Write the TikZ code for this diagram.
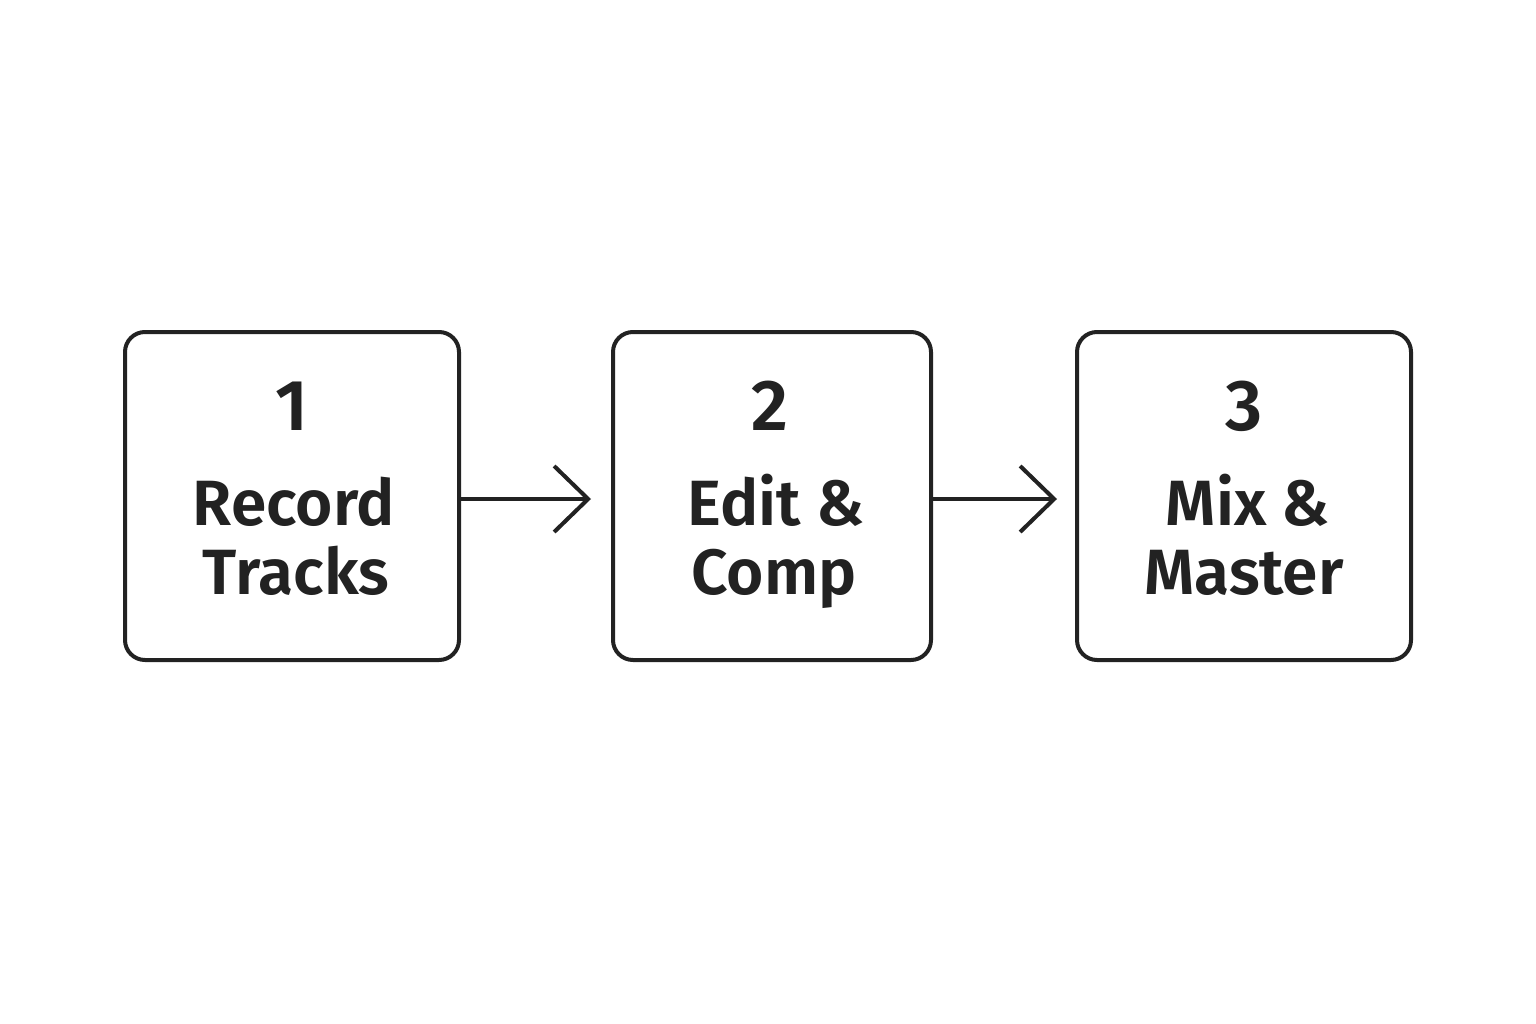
\documentclass[tikz,border=0pt]{standalone}
\usepackage{fontspec}
\setmainfont{Fira Sans SemiBold}
\usetikzlibrary{arrows.meta}
\definecolor{ink}{HTML}{222222}
\tikzset{
  stepbox/.style={draw=ink, line width=4pt, rounded corners=20pt, minimum width=#1, minimum height=328pt, inner sep=0pt},
  numtext/.style={anchor=base, text=ink, font=\fontsize{72}{72}\selectfont, inner sep=0pt},
  labtext/.style={anchor=base, text=ink, font=\fontsize{64}{64}\selectfont, inner sep=0pt},
  flow/.style={draw=ink, line width=4pt, -{Straight Barb[length=34pt, width=66pt, line width=4pt]}}
}
\begin{document}
\begin{tikzpicture}[x=1pt, y=-1pt]
\useasboundingbox (0,0) rectangle (1536,1024);
\fill[white] (0,0) rectangle (1536,1024);
\node[stepbox=334pt] (b1) at (292,496) {};
\node[stepbox=318pt] (b2) at (772,496) {};
\node[stepbox=334pt] (b3) at (1244,496) {};
\node[numtext] (n1) at (292,430) {1};
\node[labtext] (a1) at (294,525) {Record};
\node[labtext] (c1) at (296,594) {Tracks};
\node[numtext] (n2) at (770,430) {2};
\node[labtext] (a2) at (776,525) {Edit \&};
\node[labtext] (c2) at (774,594) {Comp};
\node[numtext] (n3) at (1244,430) {3};
\node[labtext] (a3) at (1248,525) {Mix \&};
\node[labtext] (c3) at (1244,594) {Master};
\draw[flow] ([yshift=-3pt]b1.east) -- ([xshift=-20pt,yshift=-3pt]b2.west);
\draw[flow] ([yshift=-3pt]b2.east) -- ([xshift=-18pt,yshift=-3pt]b3.west);
\end{tikzpicture}
\end{document}
